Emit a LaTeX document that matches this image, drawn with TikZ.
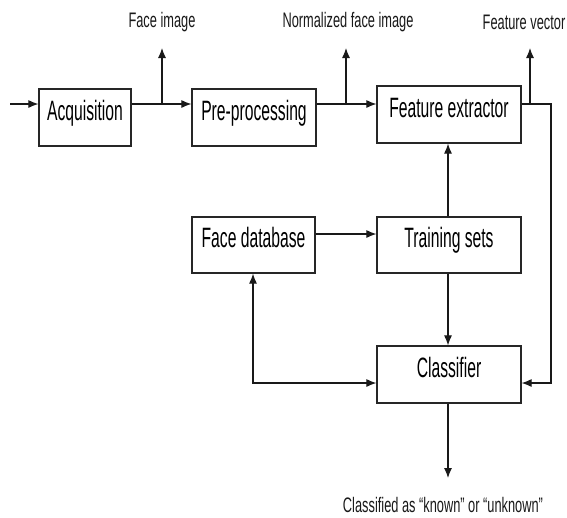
\documentclass[tikz,border=0pt]{standalone}
\usepackage{fontspec}
\setmainfont{Liberation Sans}
\newfontfamily\boxfont[FakeStretch=0.56]{Liberation Sans}
\newfontfamily\lblfont[FakeStretch=0.61]{Liberation Sans}
\usetikzlibrary{arrows.meta}
\begin{document}
\begin{tikzpicture}[x=1pt,y=-1pt,
  conn/.style={line width=1.1pt, draw=black!90},
  blk/.style={draw=black!85, line width=1.2pt, inner sep=0pt, font=\boxfont\fontsize{28}{30}\selectfont,
    text height=21pt, text depth=16pt, minimum height=57pt, anchor=center},
  lbl/.style={font=\lblfont\fontsize{21}{24}\selectfont, inner sep=0pt, text=black!90},
  arr/.style={conn, -{Latex[length=10pt,width=8pt]}},
  darr/.style={conn, {Latex[length=10pt,width=8pt]}-{Latex[length=10pt,width=8pt]}}]
\useasboundingbox (0,0) rectangle (567,517);
% boxes
\node[blk, minimum width=92pt] (acq) at (85,117.5) {Acquisition};
\node[blk, minimum width=124pt] (pre) at (254,117.5) {Pre-processing};
\node[blk, minimum width=144pt] (fe) at (449,114.5) {Feature extractor};
\node[blk, minimum width=123pt, minimum height=56pt] (db) at (253.5,245) {Face database};
\node[blk, minimum width=144pt, minimum height=56pt] (ts) at (449,245) {Training sets};
\node[blk, minimum width=144pt] (cl) at (449,374.5) {Classifier};
% labels
\node[lbl] (l1) at (162,22) {Face image};
\node[lbl] (l2) at (348,22) {Normalized face image};
\node[lbl] (l3) at (524,22) {Feature vector};
\node[lbl] (l4) at (443,505) {Classified as “known” or “unknown”};
% coordinates
\coordinate (in) at (10,104);
\coordinate (b1) at (162,104);
\coordinate (t1) at (162,48);
\coordinate (b2) at (346,104);
\coordinate (t2) at (346,48);
\coordinate (b3) at (530,104);
\coordinate (t3) at (530,48);
\coordinate (rc) at (551,104);
\coordinate (rb) at (551,383);
\coordinate (lb) at (253,383);
\coordinate (out) at (448,478);
% connectors
\draw[arr] (in) -- (in -| acq.west);
\draw[arr] (acq.east |- in) -- (pre.west |- in);
\draw[arr] (pre.east |- in) -- (fe.west |- in);
\draw[arr] (b1) -- (t1);
\draw[arr] (b2) -- (t2);
\draw[arr] (b3) -- (t3);
\draw[arr] (fe.east |- rc) -- (rc) -- (rb) -- (cl.east |- rb);
\draw[arr] ([yshift=11pt]db.east) -- ([yshift=11pt]db.east -| ts.west);
\draw[arr] (ts.north -| out) -- (fe.south -| out);
\draw[arr] (ts.south -| out) -- (cl.north -| out);
\draw[darr] (db.south -| lb) -- (lb) -- (cl.west |- lb);
\draw[arr] (cl.south -| out) -- (out);
\end{tikzpicture}
\end{document}
